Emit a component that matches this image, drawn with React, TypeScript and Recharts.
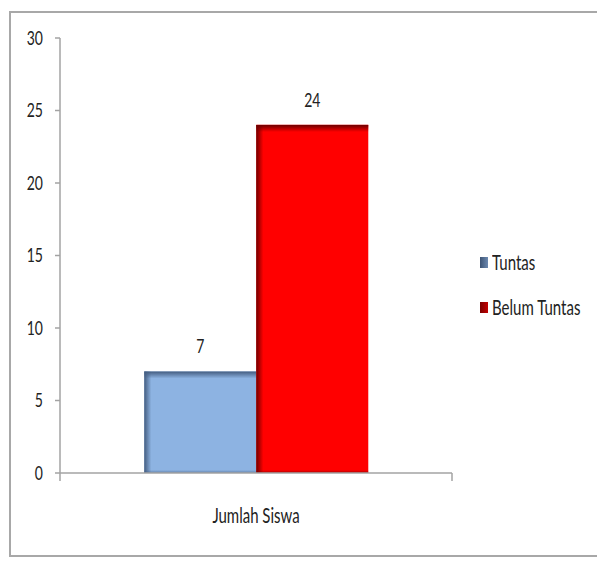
import React from "react";
import { BarChart, Bar, XAxis, YAxis, LabelList } from "recharts";

const categories = ["Jumlah Siswa"];
const tuntas = [7];
const belumTuntas = [24];
const seriesNames = ["Tuntas", "Belum Tuntas"];
const yTicks = [0, 5, 10, 15, 20, 25, 30];

const data = categories.map((name, i) => ({
   name,
   tuntas: tuntas[i],
   belum: belumTuntas[i],
}));

const FONT = "Lato, 'Open Sans', sans-serif";
const TEXT = "#222";
const AXIS = "#a3a3a3";
const STRETCH = 1.35;

// text drawn a little taller than wide, like the old office chart look
const TallText = ({ x, y, anchor, size = 14, children }: any) => (
   <text
      transform={`translate(${x},${y}) scale(1,${STRETCH})`}
      textAnchor={anchor}
      dominantBaseline="central"
      fontFamily={FONT}
      fontSize={size}
      fill={TEXT}
   >
      {children}
   </text>
);

const YTick = ({ x, y, payload }: any) => (
   <TallText x={x} y={y} anchor="end">{payload.value}</TallText>
);

// category label plus the short marks at both edges of its band
const XTick = ({ x, y, payload, width }: any) => {
   const half = payload.offset || width / 2;
   return (
      <g>
         <line x1={x - half} y1={y} x2={x - half} y2={y + 8} stroke={AXIS} strokeWidth={1.5} />
         <line x1={x + half} y1={y} x2={x + half} y2={y + 8} stroke={AXIS} strokeWidth={1.5} />
         <TallText x={x} y={y + 42} anchor="middle" size={15}>{payload.value}</TallText>
      </g>
   );
};

const ValueLabel = ({ x, y, width, value }: any) => (
   <TallText x={x + width / 2} y={y - 25} anchor="middle">{value}</TallText>
);

// bar with a darker inner edge on the top / left / bottom
const BevelBar = ({ x, y, width, height, fill, edge, rim }: any) => {
   if (!height || height <= 0) return null;
   const s = 7;
   return (
      <g>
         <rect x={x} y={y} width={width} height={height} fill={fill} />
         <rect x={x} y={y} width={width} height={s} fill={`url(#top-${edge})`} />
         <rect x={x} y={y} width={s} height={height} fill={`url(#left-${edge})`} />
         <rect x={x} y={y + height - 3} width={width} height={3} fill={`url(#bottom-${edge})`} />
         {rim && <line x1={x} y1={y - 0.5} x2={x + width} y2={y - 0.5} stroke={rim} strokeWidth={1} />}
      </g>
   );
};

const edges = [
   { id: "blue", color: "#445d80" },
   { id: "red", color: "#6e0000" },
];

const legendItems = [
   { name: seriesNames[0], swatch: "linear-gradient(90deg, #3d5474, #6c89b0)" },
   { name: seriesNames[1], swatch: "linear-gradient(90deg, #7a0000, #c40000)" },
];

const App: React.FC = () => {
   return (
      <div
         style={{
            position: "relative",
            marginLeft: 1,
            marginTop: 3,
            width: 595,
            height: 546,
            border: "2px solid #a8a8a8",
            boxSizing: "border-box",
            background: "#fff",
         }}
      >
         <BarChart
            width={591}
            height={542}
            data={data}
            margin={{ top: 25, right: 150, bottom: 81, left: 0 }}
            barGap={0}
            barCategoryGap="21.5%"
         >
            <defs>
               {edges.map((e) => (
                  <React.Fragment key={e.id}>
                     <linearGradient id={`top-${e.id}`} x1="0" y1="0" x2="0" y2="1">
                        <stop offset="0" stopColor={e.color} stopOpacity={1} />
                        <stop offset="1" stopColor={e.color} stopOpacity={0} />
                     </linearGradient>
                     <linearGradient id={`left-${e.id}`} x1="0" y1="0" x2="1" y2="0">
                        <stop offset="0" stopColor={e.color} stopOpacity={1} />
                        <stop offset="1" stopColor={e.color} stopOpacity={0} />
                     </linearGradient>
                     <linearGradient id={`bottom-${e.id}`} x1="0" y1="1" x2="0" y2="0">
                        <stop offset="0" stopColor={e.color} stopOpacity={0.6} />
                        <stop offset="1" stopColor={e.color} stopOpacity={0} />
                     </linearGradient>
                  </React.Fragment>
               ))}
            </defs>
            <XAxis
               dataKey="name"
               height={1}
               axisLine={{ stroke: AXIS, strokeWidth: 1.5 }}
               tickLine={false}
               tickSize={0}
               tickMargin={0}
               tick={<XTick />}
            />
            <YAxis
               width={49}
               domain={[0, 30]}
               ticks={yTicks}
               interval={0}
               tickSize={5}
               tickMargin={12}
               axisLine={{ stroke: AXIS, strokeWidth: 1.5 }}
               tickLine={{ stroke: AXIS, strokeWidth: 1.5 }}
               tick={<YTick />}
            />
            <Bar
               dataKey="tuntas"
               name={seriesNames[0]}
               fill="#8db3e2"
               isAnimationActive={false}
               shape={(p: any) => <BevelBar {...p} edge="blue" />}
            >
               <LabelList dataKey="tuntas" content={<ValueLabel />} />
            </Bar>
            <Bar
               dataKey="belum"
               name={seriesNames[1]}
               fill="#ff0000"
               isAnimationActive={false}
               shape={(p: any) => <BevelBar {...p} edge="red" rim="#f3b3b3" />}
            >
               <LabelList dataKey="belum" content={<ValueLabel />} />
            </Bar>
         </BarChart>

         <div style={{ position: "absolute", left: 469, top: 237 }}>
            {legendItems.map((item) => (
               <div
                  key={item.name}
                  style={{ display: "flex", alignItems: "center", height: 24, marginBottom: 21 }}
               >
                  <span
                     style={{ width: 8, height: 11, background: item.swatch, marginRight: 4 }}
                  />
                  <span
                     style={{
                        fontFamily: FONT,
                        fontSize: 15,
                        color: TEXT,
                        whiteSpace: "nowrap",
                        display: "inline-block",
                        transform: `scaleY(${STRETCH})`,
                     }}
                  >
                     {item.name}
                  </span>
               </div>
            ))}
         </div>
      </div>
   );
};

export default App;
